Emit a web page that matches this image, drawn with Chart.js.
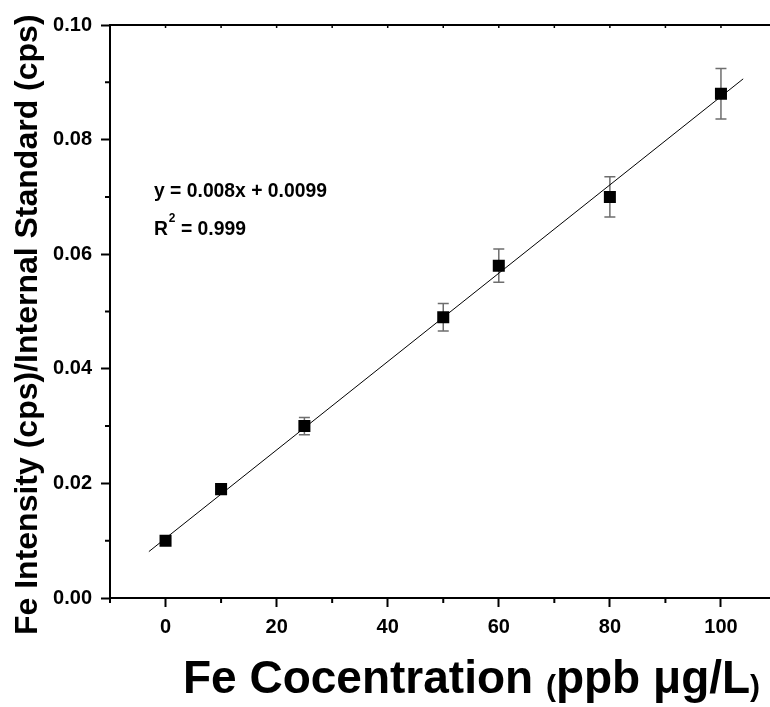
<!DOCTYPE html>
<html>
<head>
<meta charset="utf-8">
<script src="https://cdn.jsdelivr.net/npm/chart.js@4.4.1/dist/chart.umd.min.js"></script>
<style>
  html, body { margin: 0; padding: 0; background: #ffffff; overflow: hidden; }
  #wrap { width: 785px; height: 707px; }
</style>
</head>
<body>
<div id="wrap"><canvas id="calib-chart" width="785" height="707"></canvas></div>
<script>
// measured calibration points
const concentrations = [0, 10, 25, 50, 60, 80, 100];
const intensities = [0.010, 0.019, 0.030, 0.049, 0.058, 0.070, 0.088];
const errors = [0.0004, 0.0005, 0.0015, 0.0024, 0.0029, 0.0035, 0.0044];

// fitted line ends
const fitX = [-3, 104];
const fitY = [0.0081, 0.0906];

const xTicks = [0, 20, 40, 60, 80, 100];
const xMinorTicks = [-10, 10, 30, 50, 70, 90, 110];
const xTopTicks = [0, 10, 20, 30, 40, 50, 60, 70, 80, 90, 100];
const yTicks = [0, 0.02, 0.04, 0.06, 0.08, 0.10];
const yMinorTicks = [0.01, 0.03, 0.05, 0.07, 0.09];

const FONT = '"Liberation Sans", Arial, sans-serif';

const errorBars = {
  id: 'errorBars',
  beforeDatasetsDraw(chart) {
    const { ctx, scales: { x, y } } = chart;
    ctx.save();
    ctx.strokeStyle = '#6e6e6e';
    ctx.lineWidth = 1.5;
    concentrations.forEach((c, i) => {
      const px = x.getPixelForValue(c);
      const top = y.getPixelForValue(intensities[i] + errors[i]);
      const bot = y.getPixelForValue(intensities[i] - errors[i]);
      ctx.beginPath();
      ctx.moveTo(px, top); ctx.lineTo(px, bot);
      ctx.moveTo(px - 5.5, top); ctx.lineTo(px + 5.5, top);
      ctx.moveTo(px - 5.5, bot); ctx.lineTo(px + 5.5, bot);
      ctx.stroke();
    });
    ctx.restore();
  }
};

const frame = {
  id: 'frame',
  afterDraw(chart) {
    const { ctx, chartArea: a, scales: { x, y } } = chart;
    ctx.save();
    ctx.strokeStyle = '#000';
    ctx.lineWidth = 2;
    ctx.beginPath();
    ctx.moveTo(a.left - 1, a.top); ctx.lineTo(a.right, a.top);
    ctx.lineTo(a.right, a.bottom);
    ctx.stroke();

    // minor ticks
    ctx.beginPath();
    xMinorTicks.forEach(v => {
      const px = x.getPixelForValue(v);
      ctx.moveTo(px, a.bottom); ctx.lineTo(px, a.bottom + 5);
    });
    yMinorTicks.forEach(v => {
      const py = y.getPixelForValue(v);
      ctx.moveTo(a.left, py); ctx.lineTo(a.left - 5, py);
    });
    ctx.stroke();

    // small inward ticks on the top edge
    ctx.lineWidth = 1.5;
    ctx.beginPath();
    xTopTicks.forEach(v => {
      const px = x.getPixelForValue(v);
      ctx.moveTo(px, a.top); ctx.lineTo(px, a.top + 3);
    });
    ctx.stroke();
    ctx.restore();
  }
};

const labels = {
  id: 'labels',
  afterDraw(chart) {
    const { ctx } = chart;
    ctx.save();
    ctx.fillStyle = '#000';
    ctx.textBaseline = 'alphabetic';

    // equation, slightly condensed like the original
    ctx.save();
    ctx.translate(154, 0);
    ctx.scale(0.92, 1);
    ctx.font = 'bold 21px ' + FONT;
    ctx.fillText('y = 0.008x + 0.0099', 0, 197);
    ctx.fillText('R', 0, 235);
    const rw = ctx.measureText('R').width;
    ctx.font = 'bold 13px ' + FONT;
    ctx.fillText('2', rw + 1, 222);
    const sw = ctx.measureText('2').width;
    ctx.font = 'bold 21px ' + FONT;
    ctx.fillText(' = 0.999', rw + sw + 1, 235);
    ctx.restore();

    // x title with small brackets
    let cx = 183;
    const parts = [
      ['Fe Cocentration ', 46, 0],
      ['(', 30, 3],
      ['ppb \u03bcg/L', 46, 0],
      [')', 30, 3]
    ];
    parts.forEach(([t, s, dy]) => {
      ctx.font = 'bold ' + s + 'px ' + FONT;
      ctx.fillText(t, cx, 693 + dy);
      cx += ctx.measureText(t).width;
    });

    // y title
    ctx.translate(37, 635);
    ctx.rotate(-Math.PI / 2);
    ctx.font = 'bold 32px ' + FONT;
    ctx.fillText('Fe Intensity (cps)/Internal Standard (cps)', 0, 0);
    ctx.restore();
  }
};

new Chart(document.getElementById('calib-chart'), {
  type: 'scatter',
  data: {
    datasets: [
      {
        label: 'Fe',
        data: concentrations.map((c, i) => ({ x: c, y: intensities[i] })),
        pointStyle: 'rect',
        pointRadius: 8.5,
        backgroundColor: '#000',
        borderWidth: 0,
      },
      {
        label: 'fit',
        data: fitX.map((v, i) => ({ x: v, y: fitY[i] })),
        showLine: true,
        pointRadius: 0,
        borderColor: '#000',
        borderWidth: 1,
      },
    ],
  },
  options: {
    responsive: false,
    animation: false,
    events: [],
    layout: { padding: { top: 25, right: 4, left: 0, bottom: 0 } },
    plugins: {
      legend: { display: false },
      tooltip: { enabled: false },
    },
    scales: {
      x: {
        type: 'linear',
        min: -10,
        max: 110,
        afterBuildTicks: s => { s.ticks = xTicks.map(v => ({ value: v })); },
        afterFit: s => { s.height = 109; },
        border: { display: true, color: '#000', width: 2 },
        grid: { drawOnChartArea: false, tickLength: 9, tickWidth: 2, tickColor: '#000' },
        ticks: {
          padding: 8,
          color: '#000',
          font: { family: FONT, size: 20, weight: 'bold' },
        },
      },
      y: {
        type: 'linear',
        min: 0,
        max: 0.10,
        afterBuildTicks: s => { s.ticks = yTicks.map(v => ({ value: v })); },
        afterFit: s => { s.width = 110; },
        border: { display: true, color: '#000', width: 2 },
        grid: { drawOnChartArea: false, tickLength: 9, tickWidth: 2, tickColor: '#000' },
        ticks: {
          padding: 9,
          color: '#000',
          font: { family: FONT, size: 20, weight: 'bold' },
          callback: v => v.toFixed(2),
        },
      },
    },
  },
  plugins: [errorBars, frame, labels],
});
</script>
</body>
</html>
